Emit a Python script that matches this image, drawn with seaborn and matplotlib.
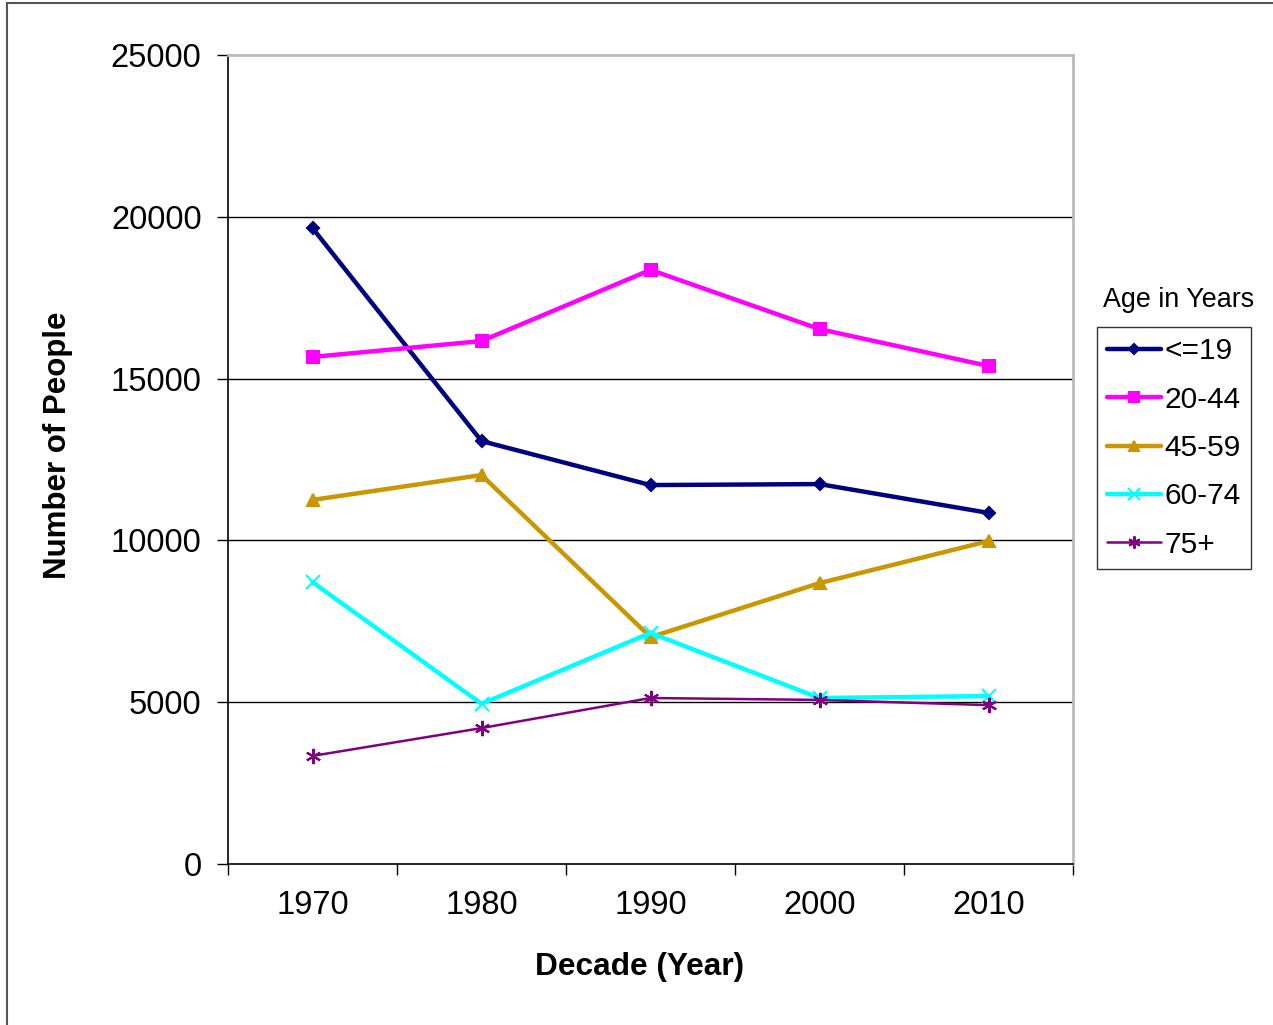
import matplotlib
matplotlib.use("Agg")
import matplotlib.pyplot as plt
from matplotlib.patches import Rectangle
import seaborn as sns
import pandas as pd

decades = ["1970", "1980", "1990", "2000", "2010"]
age_groups = ["<=19", "20-44", "45-59", "60-74", "75+"]
pop_le19 = [19650, 13070, 11710, 11740, 10850]
pop_20_44 = [15670, 16160, 18360, 16530, 15390]
pop_45_59 = [11250, 12020, 7010, 8680, 9980]
pop_60_74 = [8710, 4950, 7140, 5130, 5190]
pop_75plus = [3340, 4200, 5130, 5070, 4910]

series_values = [pop_le19, pop_20_44, pop_45_59, pop_60_74, pop_75plus]
colors = ["#000080", "#FF00FF", "#C99700", "#00FFFF", "#800080"]
markers = ["D", "s", "^", "x", (6, 2, 0)]
marker_sizes = [6, 9, 9, 10, 11]
line_widths = [3.2, 3.2, 3.2, 3.2, 1.8]

rows = []
for grp, vals in zip(age_groups, series_values):
    for i, (d, v) in enumerate(zip(decades, vals)):
        rows.append({"pos": i, "Decade": d, "Age": grp, "People": v})
df = pd.DataFrame(rows)

sns.set_theme(style="white")
plt.rcParams["font.family"] = ["Liberation Sans", "DejaVu Sans"]
plt.rcParams.update({"text.color": "black", "axes.labelcolor": "black",
                     "xtick.color": "black", "ytick.color": "black"})

fig = plt.figure(figsize=(12.73, 10.25), dpi=100)
ax = fig.add_axes([228 / 1273, 1 - 864 / 1025, (1073 - 228) / 1273, (864 - 55) / 1025])

for grp, col, mk, ms, lw in zip(age_groups, colors, markers, marker_sizes, line_widths):
    sub = df[df["Age"] == grp]
    sns.lineplot(data=sub, x="pos", y="People", ax=ax, color=col, marker=mk,
                 markersize=ms, linewidth=lw, markeredgecolor=col,
                 markeredgewidth=1.5, label=grp, solid_joinstyle="miter")

ax.set_xlim(-0.5, len(decades) - 0.5)
ax.set_ylim(0, 25000)
ax.set_yticks(range(0, 25001, 5000))
ax.set_yticklabels([str(v) for v in range(0, 25001, 5000)], fontsize=23.5)
ax.set_xticks(range(len(decades)))
ax.set_xticklabels(decades, fontsize=23.5)
ax.set_xticks([i - 0.5 for i in range(len(decades) + 1)], minor=True)
ax.tick_params(axis="x", which="major", length=0, pad=19, colors="black")
ax.tick_params(axis="x", which="minor", length=8, width=1, color="black", direction="out", bottom=True)
ax.tick_params(axis="y", which="major", length=8, width=1, color="black", direction="out", left=True, pad=11)

for y in range(5000, 25000, 5000):
    ax.axhline(y, color="black", lw=1, zorder=0.5)

for side in ["left", "bottom"]:
    ax.spines[side].set_color("black")
    ax.spines[side].set_linewidth(1.2)
for side in ["top", "right"]:
    ax.spines[side].set_color("#BBBBBB")
    ax.spines[side].set_linewidth(2)

ax.set_xlabel("Decade (Year)", fontsize=22.8, fontweight="bold")
ax.xaxis.set_label_coords(0.4876, -0.109)
ax.set_ylabel("Number of People", fontsize=22.5, fontweight="bold")
ax.yaxis.set_label_coords(-0.184, 0.518)

leg = ax.legend(loc="upper left", bbox_to_anchor=(1097 / 1273, 1 - 327 / 1025),
                bbox_transform=fig.transFigure, fontsize=21.5, frameon=True,
                fancybox=False, edgecolor="black", handlelength=1.8,
                handletextpad=0.1, labelspacing=0.68, borderpad=0.35,
                borderaxespad=0, markerscale=0.8)
leg.get_frame().set_linewidth(1)
fig.text(1103 / 1273, 1 - 300 / 1025, "Age in Years", fontsize=19.4,
         ha="left", va="center")

# outer chart border
fig.patches.append(Rectangle((7 / 1273, -0.1), 1.2, 1 - 3 / 1025 + 0.1,
                             transform=fig.transFigure, fill=False,
                             edgecolor="#555555", linewidth=1.5))

fig.savefig("out.png", dpi=100)
